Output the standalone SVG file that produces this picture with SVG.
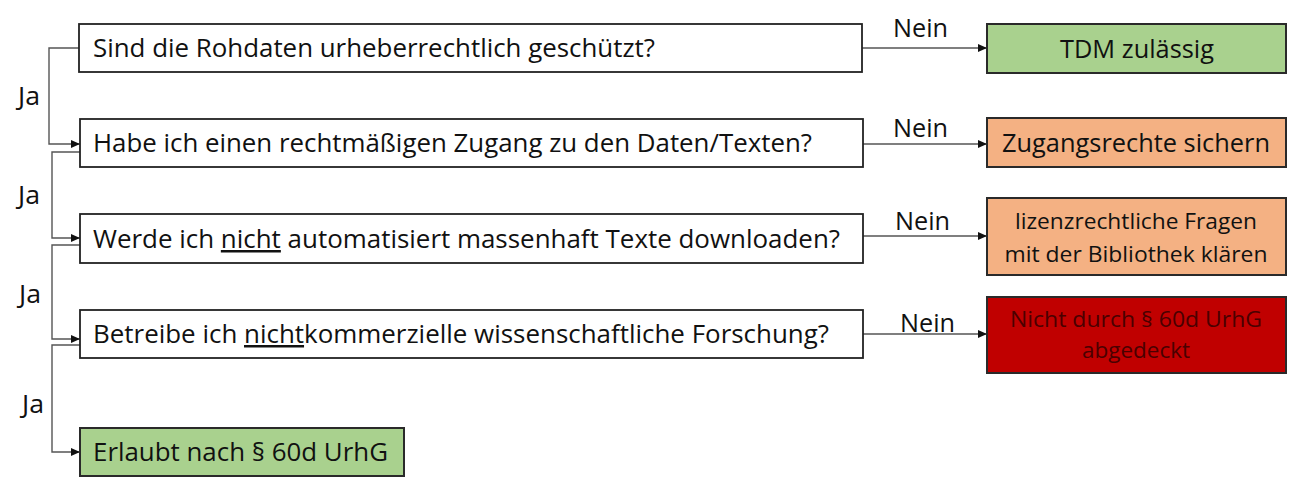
<svg xmlns="http://www.w3.org/2000/svg" width="1290" height="488" viewBox="0 0 1290 488">
<style>
.q{fill:#fff;stroke:#222;stroke-width:1.8}
.g{fill:#a9d18e;stroke:#2a2a2a;stroke-width:2}
.o{fill:#f4b183;stroke:#2a2a2a;stroke-width:2}
.r{fill:#c00000;stroke:#2a2a2a;stroke-width:2}
text{font-family:"Open Sans","Liberation Sans",Arial,sans-serif;fill:#111}
.t{font-size:25px}
.s{font-size:21px}
.c{text-anchor:middle}
.dr{fill:#4a0000}
.e{fill:none;stroke:#555;stroke-width:1.4}
.u{text-decoration:underline}
</style>
<defs>
<marker id="ah" markerWidth="10" markerHeight="8" refX="9" refY="4" orient="auto" markerUnits="userSpaceOnUse">
<path d="M0,0 L9,4 L0,8 Z" fill="#111"/>
</marker>
</defs>
<g id="connectors">
<path class="e" d="M862,48 H987" marker-end="url(#ah)"/>
<path class="e" d="M863,144 H987" marker-end="url(#ah)"/>
<path class="e" d="M863,236 H987" marker-end="url(#ah)"/>
<path class="e" d="M863,334 H987" marker-end="url(#ah)"/>
<path class="e" d="M79,48 H49 V144 H80" marker-end="url(#ah)"/>
<path class="e" d="M80,152 H52 V238 H80" marker-end="url(#ah)"/>
<path class="e" d="M80,245 H52 V339 H80" marker-end="url(#ah)"/>
<path class="e" d="M80,345 H52 V452 H80" marker-end="url(#ah)"/>
<text class="t" x="893" y="37" textLength="55" lengthAdjust="spacingAndGlyphs">Nein</text>
<text class="t" x="893" y="137" textLength="55" lengthAdjust="spacingAndGlyphs">Nein</text>
<text class="t" x="895" y="230" textLength="55" lengthAdjust="spacingAndGlyphs">Nein</text>
<text class="t" x="900" y="332" textLength="55" lengthAdjust="spacingAndGlyphs">Nein</text>
<text class="t" x="18" y="105" textLength="22" lengthAdjust="spacingAndGlyphs">Ja</text>
<text class="t" x="18" y="204" textLength="22" lengthAdjust="spacingAndGlyphs">Ja</text>
<text class="t" x="19" y="303" textLength="22" lengthAdjust="spacingAndGlyphs">Ja</text>
<text class="t" x="22" y="413" textLength="22" lengthAdjust="spacingAndGlyphs">Ja</text>
</g>
<g id="q1">
<rect class="q" x="79" y="24" width="783" height="48"/>
<text class="t" x="93" y="57" textLength="562" lengthAdjust="spacingAndGlyphs">Sind die Rohdaten urheberrechtlich geschützt?</text>
</g>
<g id="q2">
<rect class="q" x="80" y="119" width="783" height="48"/>
<text class="t" x="93" y="152" textLength="719" lengthAdjust="spacingAndGlyphs">Habe ich einen rechtmäßigen Zugang zu den Daten/Texten?</text>
</g>
<g id="q3">
<rect class="q" x="80" y="214" width="783" height="49"/>
<text class="t" x="93" y="248" textLength="747" lengthAdjust="spacingAndGlyphs">Werde ich <tspan class="u">nicht</tspan> automatisiert massenhaft Texte downloaden?</text>
</g>
<g id="q4">
<rect class="q" x="80" y="310" width="783" height="48"/>
<text class="t" x="93" y="343" textLength="736" lengthAdjust="spacingAndGlyphs">Betreibe ich <tspan class="u">nicht</tspan>kommerzielle wissenschaftliche Forschung?</text>
</g>
<g id="erlaubt">
<rect class="g" x="80" y="428" width="324" height="48"/>
<text class="t" x="93" y="461" textLength="295" lengthAdjust="spacingAndGlyphs">Erlaubt nach § 60d UrhG</text>
</g>
<g id="tdm">
<rect class="g" x="987" y="24" width="299" height="49"/>
<text class="t c" x="1137" y="58" textLength="154" lengthAdjust="spacingAndGlyphs">TDM zulässig</text>
</g>
<g id="zugang">
<rect class="o" x="987" y="118" width="299" height="49"/>
<text class="t c" x="1136" y="152" textLength="268" lengthAdjust="spacingAndGlyphs">Zugangsrechte sichern</text>
</g>
<g id="lizenz">
<rect class="o" x="987" y="198" width="299" height="77"/>
<text class="s c" x="1136" y="229" textLength="242" lengthAdjust="spacingAndGlyphs">lizenzrechtliche Fragen</text>
<text class="s c" x="1136" y="262" textLength="263" lengthAdjust="spacingAndGlyphs">mit der Bibliothek klären</text>
</g>
<g id="nicht">
<rect class="r" x="987" y="297" width="299" height="76"/>
<text class="s c dr" x="1136" y="327" textLength="252" lengthAdjust="spacingAndGlyphs">Nicht durch § 60d UrhG</text>
<text class="s c dr" x="1136" y="358" textLength="108" lengthAdjust="spacingAndGlyphs">abgedeckt</text>
</g>
</svg>
